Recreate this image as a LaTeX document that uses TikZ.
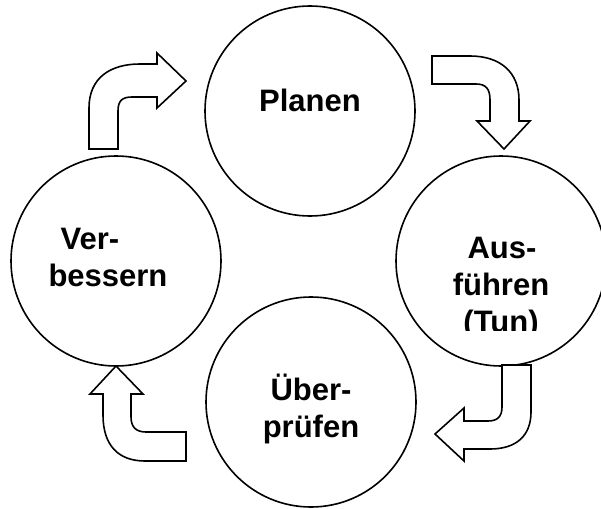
\documentclass[tikz,border=0pt]{standalone}
\usepackage{fontspec}
\setmainfont{Liberation Sans}
\begin{document}
\begin{tikzpicture}[x=1pt,y=-1pt,
  phase/.style={circle,draw,line width=1.6pt,minimum size=210pt,inner sep=0pt},
  caption/.style={font=\fontsize{31}{37}\selectfont\bfseries,anchor=base,inner sep=0pt},
  blockarrow/.style={draw,fill=white,line width=1.6pt,line join=miter}]
\useasboundingbox (0,0) rectangle (601,508);
\clip (0,0) rectangle (601,508);

% the four phases of the cycle
\node[phase] (plan)  at (310,111) {};
\node[phase] (act)   at (501,261) {};
\node[phase] (check) at (311,402) {};
\node[phase] (impr)  at (116,261) {};

% captions
\node[caption] (tplan) at (310,111) {Planen};
\node[caption] (tact1) at (502,258) {Aus-};
\node[caption] (tact2) at (501,295) {führen};
\begin{scope}
  \clip (380,300) rectangle (601,330);
  \node[caption] (tact3) at (501,332) {(Tun)};
\end{scope}
\node[caption] (tchk1) at (311,400) {Über-};
\node[caption] (tchk2) at (311,437) {prüfen};
\node[caption] (timp1) at (90,249) {Ver-};
\node[caption] (timp2) at (108,286) {bessern};

% bent block arrows between the phases
% Verbessern -> Planen
\draw[blockarrow] (89,149) -- (89,108) .. controls (89,78) and (110,64) .. (140,64)
  -- (157,64) -- (157,53) -- (186,81) -- (157,108) -- (157,97) -- (132,97)
  .. controls (122,97) and (118,101) .. (118,111) -- (118,149) -- cycle;
% Planen -> Ausfuehren
\draw[blockarrow] (432,56) -- (470,56) .. controls (500,56) and (519,72) .. (519,100)
  -- (519,121) -- (530,121) -- (504,149) -- (477,121) -- (490,121) -- (490,100)
  .. controls (490,89) and (486,84) .. (476,84) -- (432,84) -- cycle;
% Ausfuehren -> Ueberpruefen
\draw[blockarrow] (502,365) -- (502,407) .. controls (502,417) and (497,421) .. (488,421)
  -- (464,421) -- (464,408) -- (435,434) -- (464,461) -- (464,449) -- (490,449)
  .. controls (516,449) and (531,436) .. (531,412) -- (531,365) -- cycle;
% Ueberpruefen -> Verbessern
\draw[blockarrow] (186,432) -- (146,432) .. controls (136,432) and (131,427) .. (131,417)
  -- (131,394) -- (143,394) -- (116,366) -- (90,394) -- (103,394) -- (103,415)
  .. controls (103,445) and (118,461) .. (145,461) -- (186,461) -- cycle;
\end{tikzpicture}
\end{document}
